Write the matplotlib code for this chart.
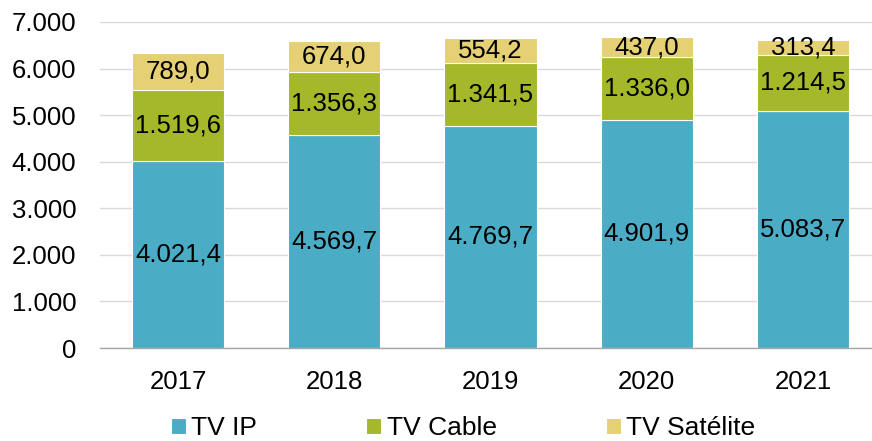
import matplotlib
matplotlib.use("Agg")
import matplotlib.pyplot as plt
from matplotlib import font_manager as fm
import numpy as np

years = ["2017", "2018", "2019", "2020", "2021"]
tv_ip = [4021.4, 4569.7, 4769.7, 4901.9, 5083.7]
tv_cable = [1519.6, 1356.3, 1341.5, 1336.0, 1214.5]
tv_sat = [789.0, 674.0, 554.2, 437.0, 313.4]
series_names = ["TV IP", "TV Cable", "TV Satélite"]
colors = ["#4BACC6", "#A5B82A", "#E5D073"]

names = {f.name for f in fm.fontManager.ttflist}
fam = "Liberation Sans" if "Liberation Sans" in names else "DejaVu Sans"
plt.rcParams['font.family'] = [fam, 'DejaVu Sans']

FS = 18.5
W, H = 872, 441
fig = plt.figure(figsize=(W/100, H/100), dpi=100)
ax = fig.add_axes([100/W, (H-348)/H, 781/W, 326/H])

def fmt(v, dec=1):
    s = f"{v:,.{dec}f}"
    return s.replace(",", "X").replace(".", ",").replace("X", ".")

x = np.arange(len(years))
bottom = np.zeros(len(years))
handles = []
for vals, c, name in zip([tv_ip, tv_cable, tv_sat], colors, series_names):
    vals = np.array(vals)
    b = ax.bar(x, vals, 0.59, bottom=bottom, color=c, edgecolor="white", linewidth=0.8, label=name, zorder=3)
    handles.append(b)
    for xi, v, bt in zip(x, vals, bottom):
        ax.text(xi, bt + v/2, fmt(v), ha="center", va="center", fontsize=FS, color="black", zorder=4)
    bottom += vals

ax.set_xlim(-0.5, 4.5)
ax.set_ylim(0, 7000)
ax.set_yticks(np.arange(0, 7001, 1000))
ax.set_yticklabels([fmt(v, 0) if v else "0" for v in np.arange(0, 7001, 1000)], fontsize=FS)
ax.set_xticks(x)
ax.set_xticklabels(years, fontsize=FS)
ax.tick_params(axis="both", length=0)
ax.tick_params(axis="y", pad=17)
ax.tick_params(axis="x", pad=16)
ax.grid(axis="y", color="#D9D9D9", linewidth=1, zorder=0)
for k, s in ax.spines.items():
    s.set_visible(k == "bottom")
ax.spines["bottom"].set_color("#A6A6A6")
ax.spines["bottom"].set_linewidth(1)
ax.spines["bottom"].set_zorder(5)

fig.legend(handles=handles, labels=series_names, loc="center", bbox_to_anchor=(463/W, 1-428/H),
           ncol=3, frameon=False, fontsize=19, handlelength=0.57, handleheight=0.57,
           handletextpad=0.2, columnspacing=4.15, borderpad=0)

fig.savefig("out.png", dpi=100)
